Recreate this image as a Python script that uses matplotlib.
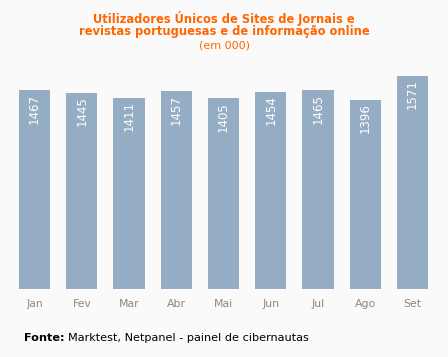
import matplotlib
matplotlib.use("Agg")
import matplotlib.pyplot as plt

months = ["Jan", "Fev", "Mar", "Abr", "Mai", "Jun", "Jul", "Ago", "Set"]
values = [1467, 1445, 1411, 1457, 1405, 1454, 1465, 1396, 1571]

W, H = 448, 357
fig = plt.figure(figsize=(W / 100, H / 100), dpi=100, facecolor="#fafafa")
ax_left, ax_right = 10.9, 436.1
ax_bottom_px, ax_top_px = 289, 72
ax = fig.add_axes([ax_left / W, 1 - ax_bottom_px / H, (ax_right - ax_left) / W, (ax_bottom_px - ax_top_px) / H])
ax.set_facecolor("#fafafa")
x = range(len(months))
ax.bar(x, values, width=0.66, color="#94adc4")
ax.set_xlim(-0.5, len(months) - 0.5)
ax.set_ylim(0, 1600)
for s in ax.spines.values():
    s.set_visible(False)
ax.set_yticks([])
ax.set_xticks(list(x))
ax.set_xticklabels(months, fontsize=7.8, color="#888888")
ax.tick_params(axis="x", length=0, pad=7)
for xi, v in zip(x, values):
    ax.annotate(str(v), (xi, v), xytext=(0, -2.5), textcoords="offset points",
                rotation=90, ha="center", va="top", color="white", fontsize=8.5)

fig.text(224 / W, 1 - 18 / H, "Utilizadores Únicos de Sites de Jornais e", ha="center", va="center",
         color="#ff6600", fontsize=8.3, fontweight="bold")
fig.text(224 / W, 1 - 32 / H, "revistas portuguesas e de informação online", ha="center", va="center",
         color="#ff6600", fontsize=8.3, fontweight="bold")
fig.text(224 / W, 1 - 46 / H, "(em 000)", ha="center", va="center", color="#ff6600", fontsize=8.0)

t1 = fig.text(24 / W, 1 - 338 / H, "Fonte:", ha="left", va="center", color="black", fontsize=8.1, fontweight="bold")
fig.canvas.draw()
bb = t1.get_window_extent()
fig.text((bb.x1 + 3) / W, 1 - 338 / H, "Marktest, Netpanel - painel de cibernautas", ha="left", va="center",
         color="black", fontsize=8.1)

fig.savefig("out.png", dpi=100, facecolor="#fafafa")
